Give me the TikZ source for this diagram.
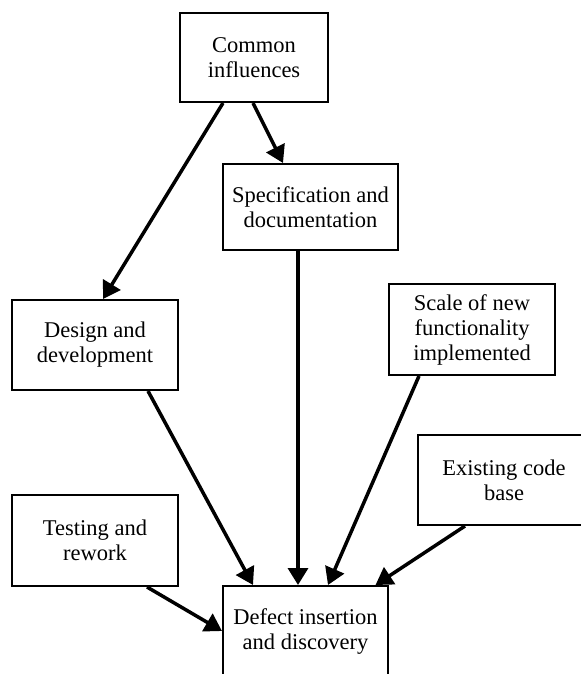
\documentclass[tikz,border=0pt]{standalone}
\usepackage{fontspec}
\setmainfont{Liberation Serif}
\usetikzlibrary{arrows.meta}

\tikzset{
  box/.style  = {draw, line width=1pt, align=center, inner sep=2pt,
                 font=\fontsize{11.25}{12.5}\selectfont},
  link/.style = {line width=1.75pt, -{Triangle[length=8.5pt,width=10pt]}}
}

\begin{document}
\begin{tikzpicture}[x=0.5pt, y=-0.5pt]
\useasboundingbox (0,0) rectangle (581,674);
\clip (0,0) rectangle (581,674);

% level 0
\node[box, minimum width=74pt, minimum height=44.5pt] (common) at (254,57.5)
    {Common\\influences};

% level 1
\node[box, minimum width=87.5pt, minimum height=43pt] (spec) at (310.5,207)
    {Specification and\\documentation};
\node[box, minimum width=83pt, minimum height=45pt] (design) at (95,345)
    {Design and\\development};
\node[box, minimum width=83pt, minimum height=45.5pt] (scale) at (472,329.5)
    {Scale of new\\functionality\\implemented};

% level 2
\node[box, minimum width=86pt, minimum height=45pt] (existing) at (504,480)
    {Existing code\\base};
\node[box, minimum width=83pt, minimum height=45.5pt] (testing) at (95,540.5)
    {Testing and\\rework};
\node[box, minimum width=82.5pt, minimum height=45pt] (defect) at (305.5,631)
    {Defect insertion\\and discovery};

% links
\draw[link] ([xshift=-15.5pt]common.south) -- ([xshift=4pt]design.north);
\draw[link] ([xshift=-0.5pt]common.south) -- ([xshift=-13.75pt]spec.north);
\draw[link] ([xshift=26.5pt]design.south) -- ([xshift=-26.25pt]defect.north);
\draw[link] ([xshift=-6.25pt]spec.south) -- ([xshift=-3.75pt]defect.north);
\draw[link] ([xshift=-26.5pt]scale.south) -- ([xshift=11.25pt]defect.north);
\draw[link] ([xshift=-19.5pt]existing.south) -- ([xshift=35pt]defect.north);
\draw[link] ([xshift=26pt]testing.south) -- (defect.west);
\end{tikzpicture}
\end{document}
